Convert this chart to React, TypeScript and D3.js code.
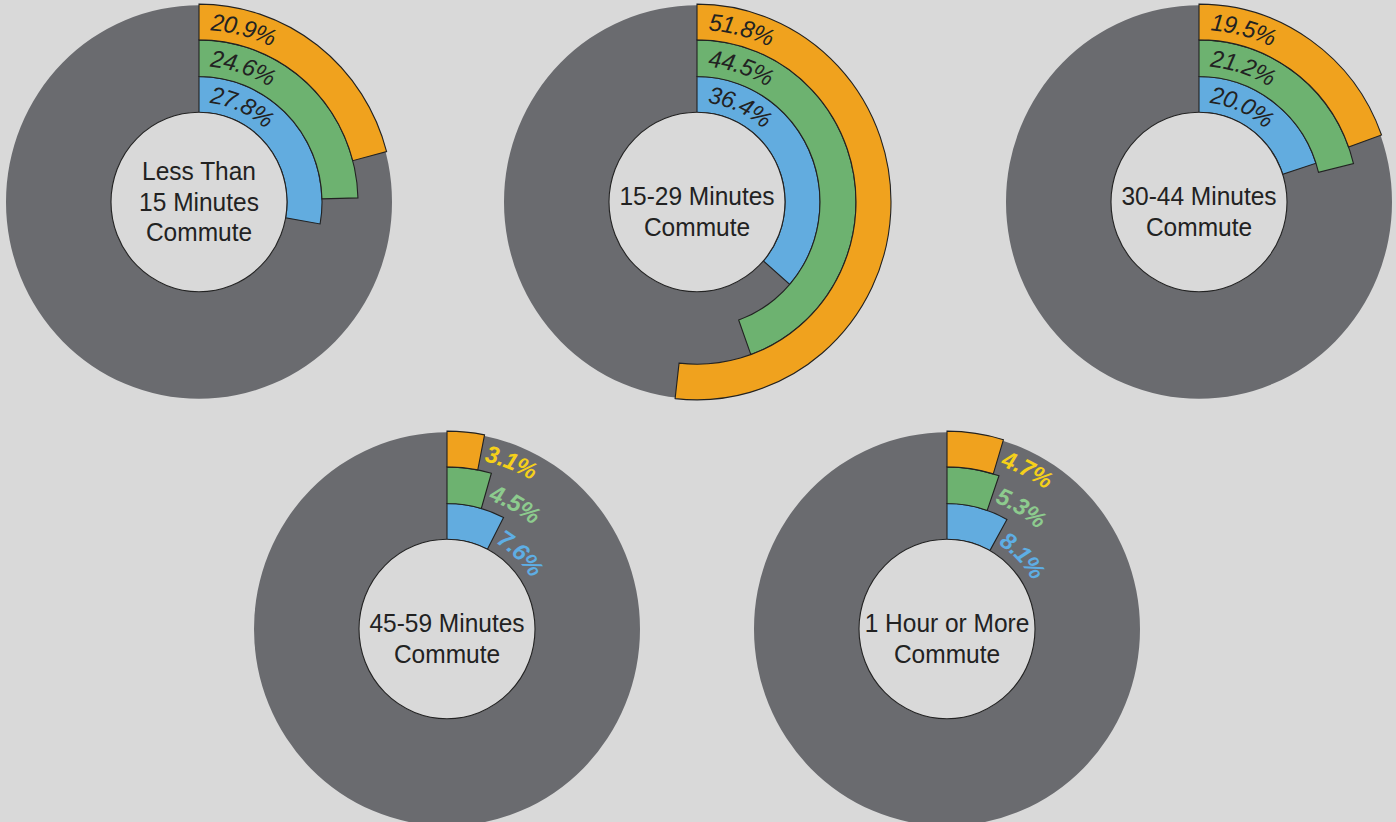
import React from "react";
import * as d3 from "d3";

// ---- Data ----
const categoryLines: string[][] = [
  ["Less Than", "15 Minutes", "Commute"],
  ["15-29 Minutes", "Commute"],
  ["30-44 Minutes", "Commute"],
  ["45-59 Minutes", "Commute"],
  ["1 Hour or More", "Commute"],
];
const seriesOuter = [20.9, 51.8, 19.5, 3.1, 4.7]; // orange ring
const seriesMiddle = [24.6, 44.5, 21.2, 4.5, 5.3]; // green ring
const seriesInner = [27.8, 36.4, 20.0, 7.6, 8.1]; // blue ring

// grid slots (column position, row) for each chart
const slotCol = [0, 0.996, 2, 0.496, 1.496];
const slotRow = [0, 0, 0, 1, 1];

const W = 1396;
const H = 822;

const BG = "#d9d9d9";
const RING_BG = "#6a6b6f";
const STROKE = "#222222";
const FONT = "'Liberation Sans', Arial, Helvetica, sans-serif";

const rings = [
  { values: seriesInner, fill: "#62acdf", label: "#5eaee4", r0: 88, r1: 123 },
  { values: seriesMiddle, fill: "#6db270", label: "#8dcb8e", r0: 123, r1: 159 },
  { values: seriesOuter, fill: "#f0a21e", label: "#f5d01a", r0: 159, r1: 194 },
];

const xScale = d3.scaleLinear().domain([0, 2]).range([199, 1199]);
const yScale = d3.scaleOrdinal<number, number>().domain([0, 1]).range([202, 629]);
const angle = d3.scaleLinear().domain([0, 100]).range([0, 2 * Math.PI]);

const SY = 1.02;
const OUTER = 193;
const HOLE = 88;

function textArc(r: number, a0: number, span: number) {
  const p = d3.path();
  p.arc(0, 0, r, a0 - Math.PI / 2, a0 + span - Math.PI / 2, false);
  return p.toString();
}

export default function App() {
  const arcGen = d3.arc<any>();
  return (
    <svg
      width={W}
      height={H}
      style={{ position: "absolute", left: 0, top: 0, background: BG }}
    >
      <rect x={0} y={0} width={W} height={H} fill={BG} />
      {categoryLines.map((lines, i) => {
        const cx = xScale(slotCol[i]);
        const cy = yScale(slotRow[i]);
        const n = lines.length;
        const lineH = 30;
        const firstY = n === 3 ? -lineH : -5;
        return (
          <g key={i} transform={`translate(${cx},${cy}) scale(1,${SY})`}>
            <path
              d={arcGen({ innerRadius: HOLE, outerRadius: OUTER, startAngle: 0, endAngle: 2 * Math.PI }) as string}
              fill={RING_BG}
            />
            {rings.map((ring, k) => (
              <path
                key={k}
                d={
                  arcGen({
                    innerRadius: ring.r0,
                    outerRadius: ring.r1,
                    startAngle: 0,
                    endAngle: angle(ring.values[i]),
                  }) as string
                }
                fill={ring.fill}
                stroke={STROKE}
                strokeWidth={1.1}
                strokeLinejoin="miter"
              />
            ))}
            <circle r={HOLE} fill={BG} stroke={STROKE} strokeWidth={1.1} />
            {rings.map((ring, k) => {
              const v = ring.values[i];
              const rm = (ring.r0 + ring.r1) / 2;
              const inside = v >= 10;
              const a0 = inside ? 12 / rm : angle(v) + 5 / rm;
              const id = `lbl-${i}-${k}`;
              return (
                <g key={`t${k}`}>
                  <path id={id} d={textArc(rm, a0, 2.5)} fill="none" />
                  <text
                    fontFamily={FONT}
                    fontSize={23.5}
                    fontStyle="italic"
                    fontWeight={inside ? 400 : 700}
                    fill={inside ? STROKE : ring.label}
                    dominantBaseline="central"
                  >
                    <textPath href={`#${id}`}>{`${v.toFixed(1)}%`}</textPath>
                  </text>
                </g>
              );
            })}
            {lines.map((ln, j) => (
              <text
                key={`c${j}`}
                x={0}
                y={firstY + j * lineH}
                textAnchor="middle"
                dominantBaseline="central"
                fontFamily={FONT}
                fontSize={24.5}
                fill={STROKE}
              >
                {ln}
              </text>
            ))}
          </g>
        );
      })}
    </svg>
  );
}
